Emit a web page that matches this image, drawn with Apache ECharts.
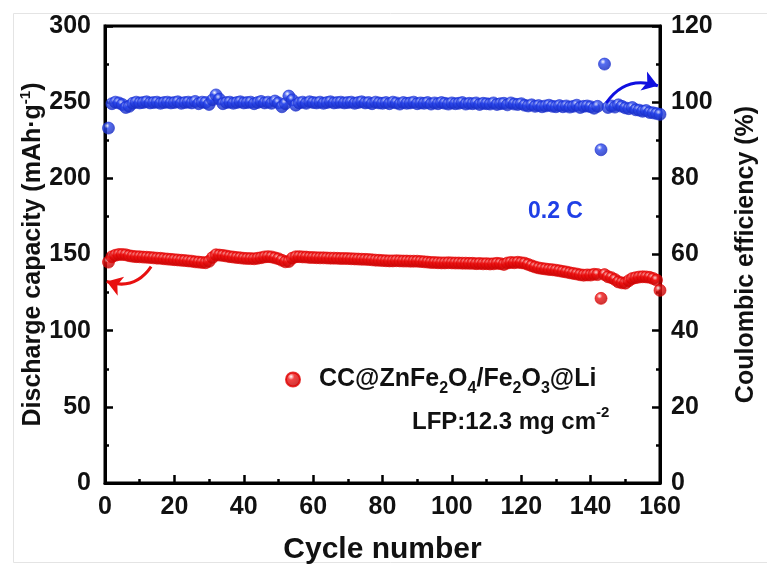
<!DOCTYPE html>
<html><head><meta charset="utf-8">
<script src="https://cdn.jsdelivr.net/npm/echarts@6/dist/echarts.min.js"></script>
<style>html,body{margin:0;padding:0;background:#fff}#c{width:767px;height:570px}</style>
</head><body><div id="c"></div>
<script>
// Discharge capacity (mAh/g), cycles 1..160
const capacity = [
145.0,148.5,149.5,150.0,150.0,149.8,149.2,148.8,148.6,148.5,
148.3,148.2,148.0,147.8,147.6,147.5,147.2,147.0,146.8,146.6,
146.4,146.2,146.0,145.8,145.6,145.2,145.0,144.8,144.6,145.5,
148.0,149.8,149.6,149.4,149.0,148.6,148.3,148.0,147.8,147.5,
147.4,147.3,147.2,147.5,147.9,148.4,148.6,148.4,147.8,147.2,
146.2,145.2,145.4,147.6,148.5,148.6,148.4,148.3,148.1,148.0,
147.9,147.8,147.8,147.7,147.6,147.6,147.5,147.4,147.4,147.3,
147.2,147.1,147.0,146.9,146.8,146.7,146.5,146.3,146.2,146.0,
145.9,145.8,145.8,145.9,145.8,145.7,145.7,145.6,145.6,145.6,
145.4,145.2,145.0,144.8,144.7,144.6,144.5,144.5,144.6,144.5,
144.4,144.4,144.3,144.3,144.2,144.2,144.0,144.1,143.9,144.0,
143.8,143.9,144.2,144.0,143.5,144.4,144.8,144.6,144.9,144.6,
144.3,143.5,142.6,141.8,141.2,140.8,140.5,140.2,140.0,139.7,
139.3,138.9,138.5,138.0,137.6,137.2,136.7,136.4,136.6,136.5,
137.0,136.8,121.2,136.8,135.4,134.8,133.6,132.0,131.4,131.2,
132.8,134.2,134.8,135.2,135.4,135.3,135.0,134.3,133.2,126.5
];
// Coulombic efficiency (%), cycles 1..160
const efficiency = [
93.2,99.6,100.0,99.8,99.4,98.6,98.9,99.7,100.0,99.8,
99.9,100.1,99.8,99.9,100.0,99.7,99.9,100.0,99.8,99.9,
100.1,99.7,99.9,100.0,99.8,100.2,99.6,100.0,99.9,99.4,
100.6,101.9,100.8,99.6,99.9,100.0,99.7,99.9,100.1,99.8,
99.9,100.0,99.6,99.9,100.2,99.8,100.0,99.7,100.3,99.8,
98.8,99.6,101.6,100.6,99.2,99.8,100.0,99.7,100.1,99.9,
99.8,100.0,99.7,99.9,100.1,99.8,99.9,100.0,99.8,99.9,
100.0,99.7,99.9,100.1,99.8,99.9,99.6,100.0,99.8,99.7,
99.9,99.6,100.0,99.8,99.5,99.9,99.7,99.8,100.0,99.6,
99.8,99.7,99.9,99.5,99.8,99.6,99.9,99.7,99.5,99.8,
99.6,99.7,99.9,99.5,99.7,99.6,99.8,99.4,99.7,99.6,
99.5,99.8,99.4,99.6,99.7,99.3,99.8,99.5,99.4,99.6,
99.2,99.0,99.3,98.9,99.1,98.8,99.0,99.2,98.9,98.8,
99.1,98.8,99.0,98.7,98.9,99.2,98.6,98.9,99.0,98.8,
98.4,98.9,87.5,110.0,98.6,99.0,98.7,99.3,98.9,98.5,
98.3,98.6,98.0,97.9,97.6,97.8,97.3,97.2,97.0,96.8
];
const xRange = [0, 160, 20];
const capRange = [0, 300, 50];
const ceRange = [0, 120, 20];
const redArrow = [[13.3, 142], [0.5, 132.3]];
const blueArrow = [[144.5, 99.8], [159.4, 104.3]];

const FONT = "'Liberation Sans', Arial, sans-serif";
const RED = '#f01414', BLUE = '#2a48ee';
function sphere(c, dark) {
  return {type:'radial', x:0.38, y:0.32, r:0.7, colorStops:[
    {offset:0, color:'#ffffff'}, {offset:0.3, color:c}, {offset:1, color:dark}]};
}
const capData = capacity.map((v,i)=>[i+1, v]);
const ceData = efficiency.map((v,i)=>[i+1, v]);

const axisCommon = {
  axisLine:{show:true, lineStyle:{color:'#000', width:3}},
  axisTick:{show:true, inside:true, length:8, lineStyle:{color:'#000', width:2.5}},
  minorTick:{show:true, splitNumber:2, length:4, lineStyle:{color:'#000', width:2.5}},
  splitLine:{show:false},
  axisLabel:{fontSize:25, fontWeight:'bold', fontFamily:FONT, color:'#111'},
  nameTextStyle:{fontSize:25, fontWeight:'bold', fontFamily:FONT, color:'#111'},
  nameMoveOverlap:false
};

const chart = echarts.init(document.getElementById('c'), null, {renderer:'canvas'});
chart.setOption({
  animation:false,
  backgroundColor:'#fff',
  grid:{left:105, right:95, top:26, bottom:86, show:true, borderColor:'#000', borderWidth:3, containLabel:false},
  xAxis:{type:'value', min:xRange[0], max:xRange[1], interval:xRange[2], ...axisCommon,
    axisLabel:{...axisCommon.axisLabel, margin:12},
    name:'Cycle number', nameLocation:'middle', nameGap:52,
    nameTextStyle:{fontSize:30, fontWeight:'bold', fontFamily:FONT, color:'#111'}},
  yAxis:[
    {type:'value', min:capRange[0], max:capRange[1], interval:capRange[2], position:'left', ...axisCommon,
     axisLabel:{...axisCommon.axisLabel, margin:14},
     name:'{n|Discharge capacity (mAh\u00b7g}{sup|-1}{n|)}', nameLocation:'middle', nameGap:57, nameRotate:90,
     nameTextStyle:{...axisCommon.nameTextStyle, rich:{
       n:{fontSize:25, fontWeight:'bold', fontFamily:FONT, color:'#111', lineHeight:30},
       sup:{fontSize:15, fontWeight:'bold', fontFamily:FONT, color:'#111', lineHeight:18, verticalAlign:'top'}}}},
    {type:'value', min:ceRange[0], max:ceRange[1], interval:ceRange[2], position:'right', ...axisCommon,
     axisLabel:{...axisCommon.axisLabel, margin:11},
     name:'Coulombic efficiency (%)', nameLocation:'middle', nameGap:74, nameRotate:90}
  ],
  legend:{
    data:['cap'], left:285, top:367, padding:0, icon:'circle', itemWidth:14, itemHeight:14,
    formatter:()=> '{n|CC@ZnFe}{sub|2}{n|O}{sub|4}{n|/Fe}{sub|2}{n|O}{sub|3}{n|@Li}',
    textStyle:{padding:[0,0,0,14], rich:{
      n:{fontSize:25, fontWeight:'bold', fontFamily:FONT, color:'#111', lineHeight:34},
      sub:{fontSize:16, fontWeight:'bold', fontFamily:FONT, color:'#111', lineHeight:20, verticalAlign:'bottom'}}}
  },
  graphic:[
    {type:'rect', left:11, top:11, shape:{width:754, height:549}, style:{fill:'none', stroke:'#e4e4e4', lineWidth:1}, silent:true},
    {type:'text', left:412, top:405, style:{
      text:'{n|LFP:12.3 mg cm}{sup|-2}',
      rich:{
        n:{fontSize:24, fontWeight:'bold', fontFamily:FONT, fill:'#111', lineHeight:34},
        sup:{fontSize:15, fontWeight:'bold', fontFamily:FONT, fill:'#111', lineHeight:24, verticalAlign:'top'}}}},
    {type:'text', left:528, top:200, style:{text:'0.2 C', fontSize:23, fontWeight:'bold', fontFamily:FONT, fill:'#1f3fe6'}}
  ],
  series:[
    {name:'cap', type:'scatter', xAxisIndex:0, yAxisIndex:0, data:capData, symbol:'circle', symbolSize:12,
     itemStyle:{color:sphere(RED,'#b80000'), borderColor:'#e00000', borderWidth:0.8}, z:3},
    {name:'ce', type:'scatter', xAxisIndex:0, yAxisIndex:1, data:ceData, symbol:'circle', symbolSize:12,
     itemStyle:{color:sphere(BLUE,'#1428b8'), borderColor:'#1a30d0', borderWidth:0.8}, z:3},
    {type:'lines', coordinateSystem:'cartesian2d', xAxisIndex:0, yAxisIndex:0, symbol:['none','arrow'], symbolSize:15,
     lineStyle:{color:'#e81010', width:3, curveness:0.38, opacity:1}, data:[{coords:redArrow}], z:4},
    {type:'lines', coordinateSystem:'cartesian2d', xAxisIndex:0, yAxisIndex:1, symbol:['none','arrow'], symbolSize:15,
     lineStyle:{color:'#1010e0', width:3, curveness:0.38, opacity:1}, data:[{coords:blueArrow}], z:4}
  ]
});
</script></body></html>
